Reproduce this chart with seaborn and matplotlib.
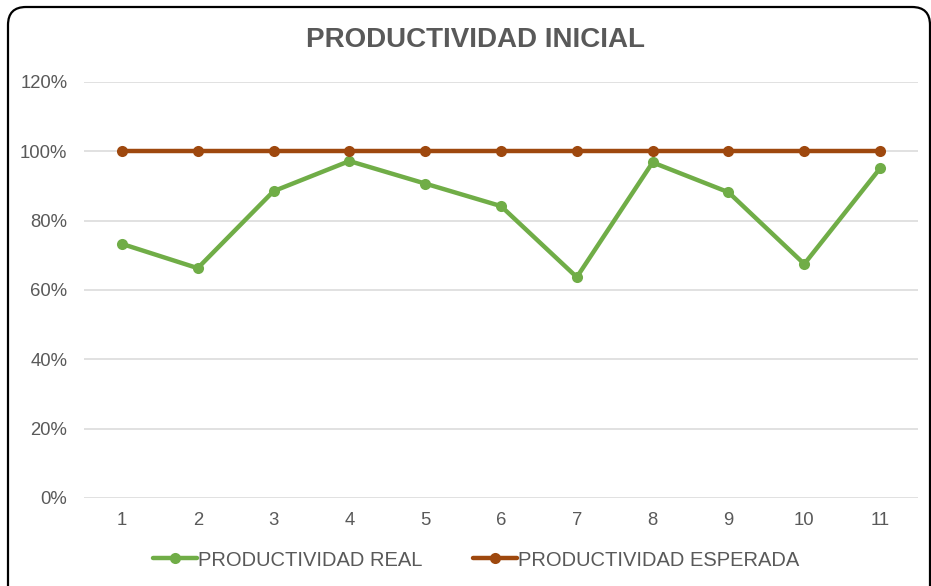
#!/usr/bin/env python3
# Productividad inicial: real vs esperada

import pandas as pd
import matplotlib.pyplot as plt
import matplotlib.patches as mpatches
from matplotlib.transforms import IdentityTransform
from matplotlib.ticker import PercentFormatter
import seaborn as sns

# Data
periodos = list(range(1, 12))
productividad_real = [0.733, 0.663, 0.885, 0.972, 0.907, 0.842, 0.637, 0.968, 0.882, 0.675, 0.951]
productividad_esperada = [1.0] * 11

df = pd.DataFrame({
    'periodo': periodos * 2,
    'valor': productividad_real + productividad_esperada,
    'serie': ['PRODUCTIVIDAD REAL'] * 11 + ['PRODUCTIVIDAD ESPERADA'] * 11,
})

sns.set_theme(style='white')
plt.rcParams['font.family'] = ['Liberation Sans', 'DejaVu Sans']

gray = '#595959'
colors = {'PRODUCTIVIDAD REAL': '#70AD47', 'PRODUCTIVIDAD ESPERADA': '#9E480E'}

fig = plt.figure(figsize=(9.31, 5.86), dpi=100)
ax = fig.add_axes([84 / 931, 1 - 498 / 586, (918 - 84) / 931, (498 - 82) / 586])

sns.lineplot(data=df, x='periodo', y='valor', hue='serie', palette=colors,
             marker='o', markersize=8, markeredgewidth=0, linewidth=3.2, ax=ax)

ax.set_xlim(0.5, 11.5)
ax.set_ylim(0, 1.2)
ax.set_yticks([0, 0.2, 0.4, 0.6, 0.8, 1.0, 1.2])
ax.set_xticks(periodos)
ax.yaxis.set_major_formatter(PercentFormatter(1.0, decimals=0))
ax.grid(axis='y', color='#D9D9D9', linewidth=1.1)
ax.set_axisbelow(True)
for s in ax.spines.values():
    s.set_visible(False)
ax.tick_params(axis='both', length=0, labelsize=13.3, labelcolor=gray)
ax.tick_params(axis='y', pad=12)
ax.tick_params(axis='x', pad=10)
ax.set_xlabel('')
ax.set_ylabel('')

fig.text(475 / 931, 1 - 40 / 586, 'PRODUCTIVIDAD INICIAL', ha='center', va='center',
         fontsize=20, fontweight='bold', color=gray)

leg = fig.legend(*ax.get_legend_handles_labels(), loc='center',
                 bbox_to_anchor=(476 / 931, 1 - 560 / 586),
                 ncol=2, frameon=False, fontsize=14.5, handlelength=2.2,
                 handletextpad=0.05, columnspacing=2.5)
ax.get_legend().remove()
for t in leg.get_texts():
    t.set_color(gray)

# rounded chart border
border = mpatches.FancyBboxPatch((8, -30), 922, 586 - 7 + 30,
                                 boxstyle='round,pad=0,rounding_size=18',
                                 transform=IdentityTransform(), fill=False,
                                 edgecolor='black', linewidth=1.6)
fig.add_artist(border)

fig.savefig('out.png', dpi=100)
